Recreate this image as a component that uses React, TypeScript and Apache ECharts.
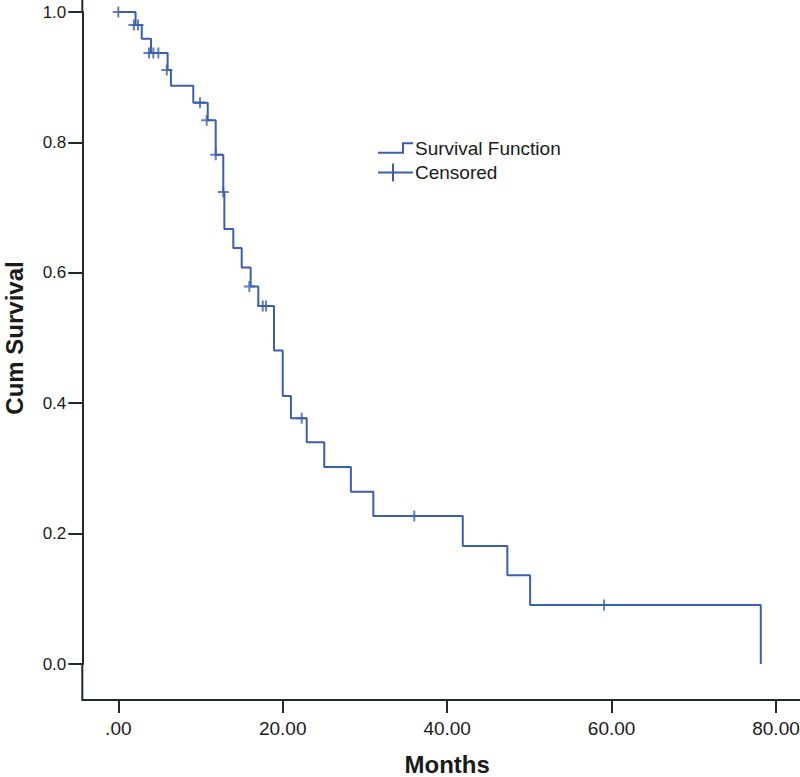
import React, { useEffect, useRef } from "react";
import * as echarts from "echarts";

// Kaplan-Meier step points: time (months) where survival drops, and survival after the drop
const eventMonths = [0, 2.1, 2.85, 3.98, 6.0, 6.4, 9.12, 10.88, 11.85, 12.77, 12.9, 13.99, 15.01, 16.1, 17.03, 18.94, 20.0, 21.0, 22.92, 25.05, 28.29, 31.02, 41.9, 47.32, 50.09, 78.15];
const survival = [1.0, 0.98, 0.959, 0.937, 0.911, 0.887, 0.861, 0.834, 0.781, 0.724, 0.667, 0.638, 0.608, 0.579, 0.549, 0.481, 0.411, 0.377, 0.34, 0.302, 0.264, 0.227, 0.181, 0.136, 0.0905, 0.0];

// Censored observations
const censorMonths = [0, 1.9, 2.4, 3.73, 4.26, 4.87, 5.9, 9.94, 10.75, 11.85, 12.77, 15.94, 17.57, 17.97, 22.31, 36.0, 59.09];
const censorSurvival = [1.0, 0.98, 0.98, 0.937, 0.937, 0.937, 0.911, 0.861, 0.834, 0.781, 0.724, 0.579, 0.549, 0.549, 0.377, 0.227, 0.0905];

const xTickStep = 20;
const xMax = 80;
const yTickStep = 0.2;
const yMax = 1.0;

const legendLabels = ["Survival Function", "Censored"];

const BLUE = "#3b5fae";
const AXIS = "#1f2b2b";
const TEXT = "#1a1a1a";
const FONT = "'Liberation Sans', Arial, sans-serif";

// layout (px)
const AX_X = 82.3; // y-axis line position
const AX_Y = 700; // x-axis line position
const G_LEFT = 118.3;
const G_RIGHT = 24;
const G_TOP = 12;
const G_BOTTOM = 113;

export default function App() {
  const ref = useRef<HTMLDivElement>(null);

  useEffect(() => {
    if (!ref.current) return;
    const chart = echarts.init(ref.current, undefined, { renderer: "svg" });

    const stepData = eventMonths.map((t, i) => [t, survival[i]]);
    const censorData = censorMonths.map((t, i) => [t, censorSurvival[i]]);

    const plus = "path://M-1.1,-6 L1.1,-6 L1.1,-1.1 L6,-1.1 L6,1.1 L1.1,1.1 L1.1,6 L-1.1,6 L-1.1,1.1 L-6,1.1 L-6,-1.1 L-1.1,-1.1 Z";

    const axisLineStyle = { stroke: AXIS, lineWidth: 2 };

    chart.setOption({
      animation: false,
      backgroundColor: "#ffffff",
      grid: { left: G_LEFT, right: G_RIGHT, top: G_TOP, bottom: G_BOTTOM, containLabel: false, outerBoundsMode: "none" },
      xAxis: {
        type: "value",
        min: 0,
        max: xMax,
        interval: xTickStep,
        offset: AX_Y - (777 - G_BOTTOM),
        name: "Months",
        nameLocation: "middle",
        nameGap: 52,
        nameTextStyle: { fontFamily: FONT, fontSize: 24, fontWeight: "bold", color: TEXT },
        axisLine: { show: true, onZero: false, lineStyle: { color: AXIS, width: 2 } },
        axisTick: { show: true, length: 13, lineStyle: { color: AXIS, width: 2 } },
        axisLabel: {
          margin: 19,
          fontFamily: FONT,
          fontSize: 19,
          color: TEXT,
          formatter: (v: number) => (v === 0 ? ".00" : v.toFixed(2)),
        },
        splitLine: { show: false },
      },
      yAxis: {
        type: "value",
        min: 0,
        max: yMax,
        interval: yTickStep,
        offset: G_LEFT - AX_X,
        name: "Cum Survival",
        nameLocation: "middle",
        nameGap: 56,
        nameRotate: 90,
        nameTextStyle: { fontFamily: FONT, fontSize: 24, fontWeight: "bold", color: TEXT },
        axisLine: { show: true, onZero: false, lineStyle: { color: AXIS, width: 2 } },
        axisTick: { show: true, length: 14, lineStyle: { color: AXIS, width: 2 } },
        axisLabel: {
          margin: 16,
          fontFamily: FONT,
          fontSize: 17,
          color: TEXT,
          formatter: (v: number) => v.toFixed(1),
        },
        splitLine: { show: false },
      },
      series: [
        {
          name: legendLabels[0],
          type: "line",
          step: "end",
          data: stepData,
          showSymbol: false,
          symbol: "none",
          clip: false,
          lineStyle: { color: BLUE, width: 2 },
          silent: true,
        },
        {
          name: legendLabels[1],
          type: "scatter",
          data: censorData,
          symbol: plus,
          symbolSize: 11,
          clip: false,
          itemStyle: { color: BLUE },
          silent: true,
          z: 3,
        },
      ],
      graphic: [
        // axis line extensions beyond the tick range
        { type: "line", shape: { x1: AX_X, y1: AX_Y, x2: G_LEFT, y2: AX_Y }, style: axisLineStyle },
        { type: "line", shape: { x1: 800 - G_RIGHT, y1: AX_Y, x2: 800, y2: AX_Y }, style: axisLineStyle },
        { type: "line", shape: { x1: AX_X, y1: 0, x2: AX_X, y2: G_TOP }, style: axisLineStyle },
        { type: "line", shape: { x1: AX_X, y1: 777 - G_BOTTOM, x2: AX_X, y2: AX_Y + 1 }, style: axisLineStyle },
        // legend
        {
          type: "polyline",
          shape: { points: [[378, 152.7], [403, 152.7], [403, 143.3], [413, 143.3]] },
          style: { stroke: BLUE, lineWidth: 2, fill: null },
        },
        {
          type: "text",
          x: 415,
          y: 148.5,
          style: { text: legendLabels[0], fill: TEXT, font: `19px ${FONT}`, textVerticalAlign: "middle", verticalAlign: "middle" },
        },
        {
          type: "line",
          shape: { x1: 378, y1: 172.5, x2: 413, y2: 172.5 },
          style: { stroke: BLUE, lineWidth: 2 },
        },
        {
          type: "line",
          shape: { x1: 393, y1: 163.5, x2: 393, y2: 181.5 },
          style: { stroke: BLUE, lineWidth: 2 },
        },
        {
          type: "text",
          x: 415,
          y: 172.7,
          style: { text: legendLabels[1], fill: TEXT, font: `19px ${FONT}`, textVerticalAlign: "middle", verticalAlign: "middle" },
        },
      ],
    });

    return () => chart.dispose();
  }, []);

  return (
    <div
      ref={ref}
      style={{ position: "fixed", left: 0, top: 0, width: 800, height: 777, background: "#fff" }}
    />
  );
}
